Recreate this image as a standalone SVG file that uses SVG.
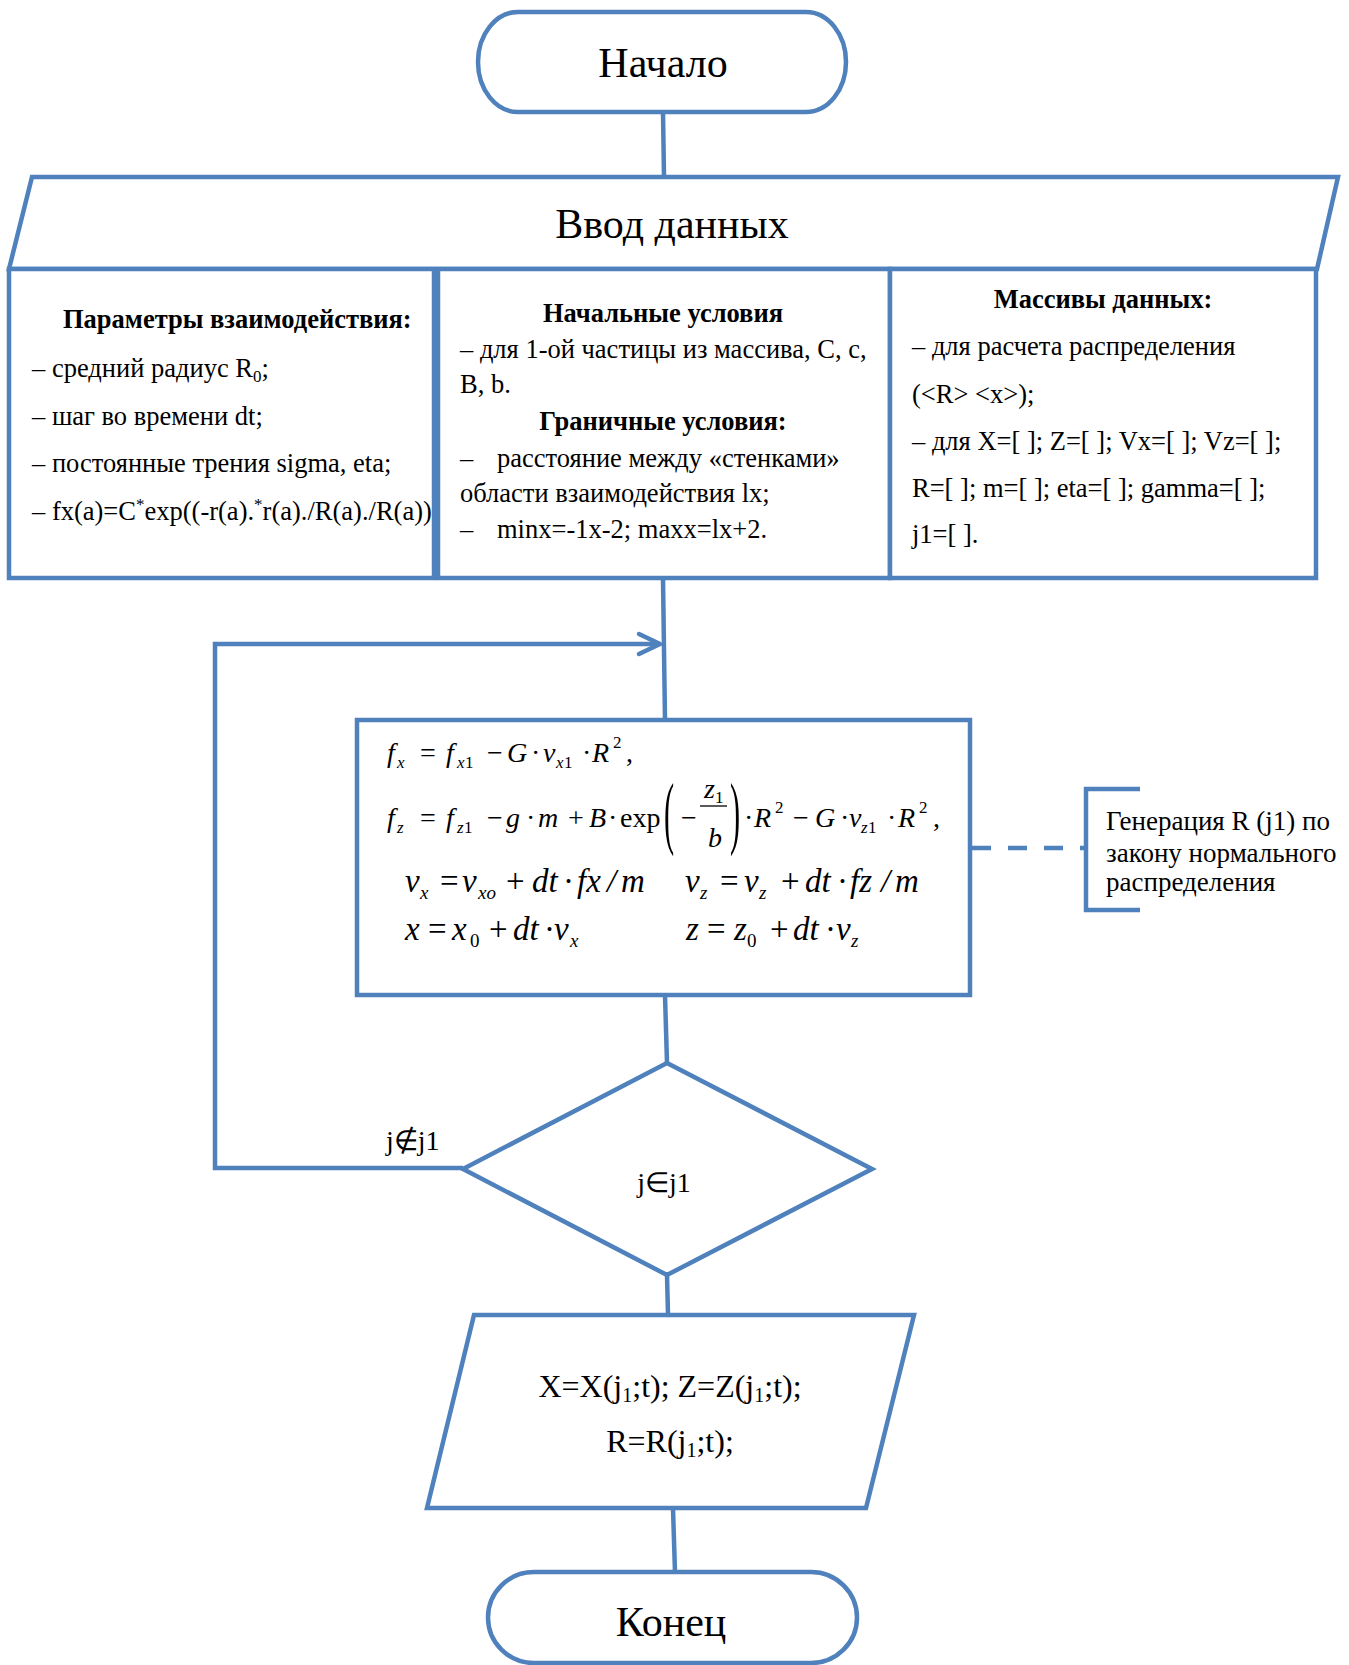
<svg xmlns="http://www.w3.org/2000/svg" width="1349" height="1665" viewBox="0 0 1349 1665">
<style>
.s{fill:#fff;stroke:#4F81BD;stroke-width:4.5;stroke-linejoin:miter}
.c{fill:none;stroke:#4F81BD;stroke-width:4.5}
text{font-family:"Liberation Serif","Times New Roman",serif;fill:#000}
.t{font-size:26.5px}
.b{font-size:26.5px;font-weight:bold}
.m{font-size:28px;font-style:italic}
.m2{font-size:33px;font-style:italic}
.u{font-style:normal}
.sb{font-size:17px}
.sb2{font-size:19px}
</style>
<rect width="1349" height="1665" fill="#fff"/>
<g id="connectors">
<path class="c" d="M663,112 L664,177"/>
<path class="c" d="M663,579 L665,720"/>
<path class="c" d="M665,995 L667,1063"/>
<path class="c" d="M667,1275 L668,1315"/>
<path class="c" d="M673,1508 L675,1572"/>
<path class="c" d="M463,1168 H215 V644 H658" stroke-linejoin="miter"/>
<path class="c" d="M639,634 L660,644 L639,654" stroke-linecap="round" stroke-linejoin="round"/>
<path class="c" d="M972,848 H1086" stroke-dasharray="19 17"/>
</g>
<g id="start">
<rect class="s" x="478" y="12" width="368" height="100" rx="40" ry="50"/>
<text x="663" y="77" font-size="42" text-anchor="middle">Начало</text>
</g>
<g id="input">
<path class="s" d="M32,177 H1338 L1317,269 H9 Z"/>
<text x="672" y="238" font-size="42" text-anchor="middle">Ввод данных</text>
</g>
<g id="params">
<rect class="s" x="9" y="269" width="425" height="309"/>
<text class="b" x="63" y="328">Параметры взаимодействия:</text>
<text class="t" x="32" y="377">– средний радиус R<tspan font-size="17" dy="5">0</tspan><tspan dy="-5">;</tspan></text>
<text class="t" x="32" y="425">– шаг во времени dt;</text>
<text class="t" x="32" y="472">– постоянные трения sigma, eta;</text>
<text class="t" x="32" y="520">– fx(a)=C<tspan font-size="17" dy="-10">*</tspan><tspan dy="10">exp((-r(a).</tspan><tspan font-size="17" dy="-10">*</tspan><tspan dy="10">r(a)./R(a)./R(a))</tspan></text>
</g>
<g id="conditions">
<rect class="s" x="438" y="269" width="452" height="309"/>
<text class="b" x="663" y="322" text-anchor="middle">Начальные условия</text>
<text class="t" x="460" y="358">– для 1-ой частицы из массива, С, с,</text>
<text class="t" x="460" y="393">В, b.</text>
<text class="b" x="663" y="430" text-anchor="middle">Граничные условия:</text>
<text class="t" x="460" y="467">–</text>
<text class="t" x="497" y="467">расстояние между «стенками»</text>
<text class="t" x="460" y="502">области взаимодействия lx;</text>
<text class="t" x="460" y="538">–</text>
<text class="t" x="497" y="538">minx=-1x-2; maxx=lx+2.</text>
</g>
<g id="arrays">
<rect class="s" x="890" y="269" width="426" height="309"/>
<text class="b" x="1103" y="308" text-anchor="middle">Массивы данных:</text>
<text class="t" x="912" y="355">– для расчета распределения</text>
<text class="t" x="912" y="403">(&lt;R&gt; &lt;x&gt;);</text>
<text class="t" x="912" y="450">– для X=[ ]; Z=[ ]; Vx=[ ]; Vz=[ ];</text>
<text class="t" x="912" y="497">R=[ ]; m=[ ]; eta=[ ]; gamma=[ ];</text>
<text class="t" x="912" y="543">j1=[ ].</text>
</g>
<g id="process">
<rect class="s" x="357" y="720" width="613" height="275"/>
<text class="m">
<tspan x="387" y="762">f</tspan><tspan class="sb" x="397" y="768">x</tspan>
<tspan class="u" x="420" y="762">=</tspan>
<tspan x="446" y="762">f</tspan><tspan class="sb" x="457" y="768">x</tspan><tspan class="sb u" x="465" y="768">1</tspan>
<tspan class="u" x="487" y="762">−</tspan>
<tspan x="507" y="762">G</tspan>
<tspan class="u" x="531" y="762">·</tspan>
<tspan x="543" y="762">v</tspan><tspan class="sb" x="556" y="768">x</tspan><tspan class="sb u" x="564" y="768">1</tspan>
<tspan class="u" x="582" y="762">·</tspan>
<tspan x="592" y="762">R</tspan><tspan class="sb u" x="613" y="748">2</tspan>
<tspan class="u" x="626" y="762">,</tspan>
</text>
<text class="m">
<tspan x="387" y="827">f</tspan><tspan class="sb" x="397" y="833">z</tspan>
<tspan class="u" x="420" y="827">=</tspan>
<tspan x="446" y="827">f</tspan><tspan class="sb" x="457" y="833">z</tspan><tspan class="sb u" x="464" y="833">1</tspan>
<tspan class="u" x="487" y="827">−</tspan>
<tspan x="506" y="827">g</tspan>
<tspan class="u" x="526" y="827">·</tspan>
<tspan x="538" y="827">m</tspan>
<tspan class="u" x="568" y="827">+</tspan>
<tspan x="589" y="827">B</tspan>
<tspan class="u" x="608" y="827">·</tspan>
<tspan class="u" x="620" y="827">exp</tspan>
<tspan class="u" x="681" y="827">−</tspan>
<tspan x="704" y="798">z</tspan><tspan class="sb u" x="715" y="803">1</tspan>
<tspan x="708" y="847">b</tspan>
<tspan class="u" x="744" y="827">·</tspan>
<tspan x="754" y="827">R</tspan><tspan class="sb u" x="775" y="813">2</tspan>
<tspan class="u" x="793" y="827">−</tspan>
<tspan x="815" y="827">G</tspan>
<tspan class="u" x="840" y="827">·</tspan>
<tspan x="849" y="827">v</tspan><tspan class="sb" x="861" y="833">z</tspan><tspan class="sb u" x="868" y="833">1</tspan>
<tspan class="u" x="887" y="827">·</tspan>
<tspan x="898" y="827">R</tspan><tspan class="sb u" x="919" y="813">2</tspan>
<tspan class="u" x="933" y="827">,</tspan>
</text>
<line x1="700" y1="806" x2="727" y2="806" stroke="#000" stroke-width="1.3"/>
<text font-size="80" transform="translate(664,839) scale(0.38,1)">(</text>
<text font-size="80" transform="translate(730,839) scale(0.38,1)">)</text>
<text class="m2">
<tspan x="405" y="892">v</tspan><tspan class="sb2" x="420" y="899">x</tspan>
<tspan class="u" x="440" y="892">=</tspan>
<tspan x="462" y="892">v</tspan><tspan class="sb2" x="478" y="899">xo</tspan>
<tspan class="u" x="506" y="892">+</tspan>
<tspan x="532" y="892">dt</tspan>
<tspan class="u" x="563" y="892">·</tspan>
<tspan x="577" y="892">fx</tspan>
<tspan x="607" y="892">/</tspan>
<tspan x="621" y="892">m</tspan>
<tspan x="685" y="892">v</tspan><tspan class="sb2" x="700" y="899">z</tspan>
<tspan class="u" x="720" y="892">=</tspan>
<tspan x="744" y="892">v</tspan><tspan class="sb2" x="759" y="899">z</tspan>
<tspan class="u" x="781" y="892">+</tspan>
<tspan x="805" y="892">dt</tspan>
<tspan class="u" x="837" y="892">·</tspan>
<tspan x="850" y="892">fz</tspan>
<tspan x="881" y="892">/</tspan>
<tspan x="895" y="892">m</tspan>
</text>
<text class="m2">
<tspan x="405" y="940">x</tspan>
<tspan class="u" x="428" y="940">=</tspan>
<tspan x="452" y="940">x</tspan><tspan class="sb2 u" x="470" y="947">0</tspan>
<tspan class="u" x="489" y="940">+</tspan>
<tspan x="513" y="940">dt</tspan>
<tspan class="u" x="544" y="940">·</tspan>
<tspan x="554" y="940">v</tspan><tspan class="sb2" x="570" y="947">x</tspan>
<tspan x="686" y="940">z</tspan>
<tspan class="u" x="707" y="940">=</tspan>
<tspan x="734" y="940">z</tspan><tspan class="sb2 u" x="747" y="947">0</tspan>
<tspan class="u" x="770" y="940">+</tspan>
<tspan x="793" y="940">dt</tspan>
<tspan class="u" x="825" y="940">·</tspan>
<tspan x="836" y="940">v</tspan><tspan class="sb2" x="851" y="947">z</tspan>
</text>
</g>
<g id="note">
<path class="c" d="M1140,789 H1086 V910 H1140"/>
<text font-size="27" x="1106" y="830">Генерация R (j1) по</text>
<text font-size="27" x="1106" y="862">закону нормального</text>
<text font-size="27" x="1106" y="891">распределения</text>
</g>
<g id="decision">
<path class="s" d="M667,1063 L872,1169 L667,1275 L463,1169 Z"/>
<text font-size="28" x="664" y="1192" text-anchor="middle">j∈j1</text>
<text font-size="28" x="386" y="1150">j∉j1</text>
</g>
<g id="output">
<path class="s" d="M474,1315 H914 L866,1508 H427 Z"/>
<text font-size="32" x="670" y="1397" text-anchor="middle">X=X(j<tspan font-size="20" dy="5">1</tspan><tspan dy="-5">;t); Z=Z(j</tspan><tspan font-size="20" dy="5">1</tspan><tspan dy="-5">;t);</tspan></text>
<text font-size="32" x="670" y="1452" text-anchor="middle">R=R(j<tspan font-size="20" dy="5">1</tspan><tspan dy="-5">;t);</tspan></text>
</g>
<g id="end">
<rect class="s" x="488" y="1572" width="369" height="91" rx="46" ry="45.5"/>
<text x="671" y="1636" font-size="42" text-anchor="middle">Конец</text>
</g>
</svg>
